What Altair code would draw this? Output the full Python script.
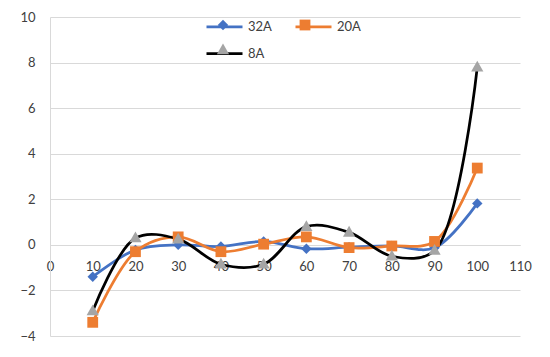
import altair as alt
import pandas as pd

x_vals = [10, 20, 30, 40, 50, 60, 70, 80, 90, 100]
series_names = ["32A", "20A", "8A"]
s32 = [-1.4, -0.22, 0.0, -0.07, 0.15, -0.17, -0.1, -0.05, -0.13, 1.82]
s20 = [-3.4, -0.3, 0.35, -0.3, 0.03, 0.35, -0.12, -0.05, 0.15, 3.37]
s8 = [-2.9, 0.3, 0.25, -0.85, -0.85, 0.8, 0.55, -0.5, -0.25, 7.8]

line_colors = ["#4472C4", "#ED7D31", "#000000"]
marker_colors = ["#4472C4", "#ED7D31", "#A5A5A5"]
marker_paths = [
    "M0,-0.29 L0.29,0 L0,0.29 L-0.29,0 Z",
    "M-0.3,-0.3 L0.3,-0.3 L0.3,0.3 L-0.3,0.3 Z",
    "M0,-0.36 L0.34,0.24 L-0.34,0.24 Z",
]

mark_names = ["m_" + n for n in series_names]
rows = []
for name, mname, vals in zip(series_names, mark_names, [s32, s20, s8]):
    for xv, yv in zip(x_vals, vals):
        rows.append({"x": xv, "y": yv, "line_series": name, "mark_series": mname})
df = pd.DataFrame(rows)

FONT = "Lato"
SYM = 1296
LX, LY = 155, -10

xenc = alt.X("x:Q", scale=alt.Scale(domain=[0, 110], nice=False),
             axis=alt.Axis(values=list(range(0, 111, 10)), grid=False, ticks=False,
                           offset=-91, labelPadding=15, domainColor="#d9d9d9",
                           domainWidth=1, title=None, labelFlush=False))
yenc = alt.Y("y:Q", scale=alt.Scale(domain=[-4, 10], nice=False),
             axis=alt.Axis(values=list(range(-4, 11, 2)), gridColor="#d9d9d9", ticks=False,
                           labelPadding=15, domainColor="#d9d9d9", title=None))

leg_common = dict(orient="none", legendX=LX, legendY=LY, columns=2, title=None,
                  symbolSize=SYM, rowPadding=-8, labelOffset=4,
                  labelFont=FONT, labelFontSize=13, padding=0, direction="horizontal")

lines = alt.Chart(df).mark_line(interpolate="catmull-rom", strokeWidth=2.75).encode(
    x=xenc, y=yenc,
    stroke=alt.Stroke("line_series:N", scale=alt.Scale(domain=series_names, range=line_colors),
                      legend=alt.Legend(symbolType="stroke", symbolStrokeWidth=2.75,
                                        labelColor="#404040", columnPadding=18, **leg_common)),
)

mleg = alt.Legend(symbolStrokeWidth=0, labelExpr="''", columnPadding=42, **leg_common)
pts = alt.Chart(df).mark_point(filled=True, size=SYM, opacity=1, strokeWidth=0).encode(
    x=xenc, y=yenc,
    fill=alt.Fill("mark_series:N", scale=alt.Scale(domain=mark_names, range=marker_colors),
                  legend=mleg),
    shape=alt.Shape("mark_series:N", scale=alt.Scale(domain=mark_names, range=marker_paths),
                    legend=mleg),
)

chart = alt.layer(lines, pts).properties(
    width=470, height=319,
    autosize=alt.AutoSizeParams(type="none"),
    padding={"left": 42, "top": 9, "right": 22, "bottom": 13},
).configure_view(stroke=None).configure_axis(
    labelFont=FONT, labelFontSize=13, labelColor="#404040"
)

chart.save("out.html", embed_options={"renderer": "svg", "actions": False})
